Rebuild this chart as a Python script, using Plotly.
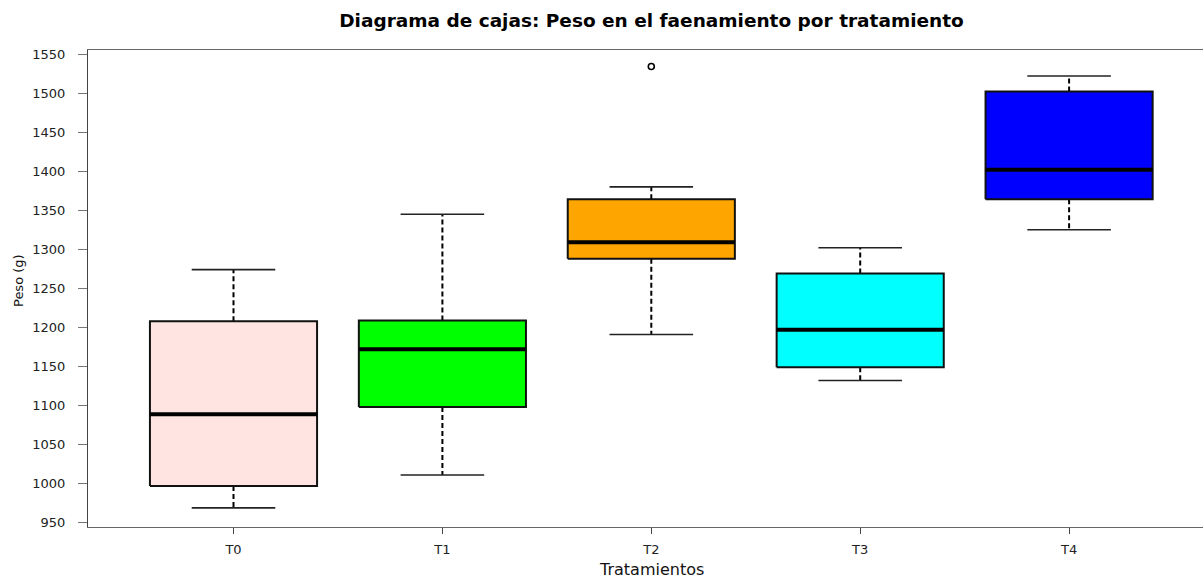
import plotly.graph_objects as go

# Five-number summaries of slaughter weight (g) per treatment
groups = ["T0", "T1", "T2", "T3", "T4"]
whisker_low = [969, 1011, 1191, 1132, 1325]
q1 = [997, 1098, 1288, 1149, 1364]
median = [1089, 1172, 1309, 1197, 1402]
q3 = [1208, 1209, 1364, 1269, 1502]
whisker_high = [1274, 1345, 1380, 1302, 1522]
outlier_group = ["T2"]
outlier_value = [1534]

fill_colors = ["#FFE4E1", "#00FF00", "#FFA500", "#00FFFF", "#0000FF"]

y_ticks = list(range(950, 1551, 50))

BOX_HALF = 0.4
CAP_HALF = 0.2
FONT = "DejaVu Sans"

# plot-area geometry in pixels (used to place axis titles)
W, H = 1203, 580
ML, MR, MT, MB = 88, 0, 50, 53
PW, PH = W - ML - MR, H - MT - MB


def px_to_paper(px, py):
    return (px - ML) / PW, (H - MB - py) / PH


fig = go.Figure()

for i, g in enumerate(groups):
    x = i + 1
    # dashed whiskers
    for a, b in ((q3[i], whisker_high[i]), (q1[i], whisker_low[i])):
        fig.add_trace(go.Scatter(
            x=[x, x], y=[a, b], mode="lines",
            line=dict(color="black", width=2, dash="5px,3px"),
            hoverinfo="skip", showlegend=False))
    # whisker caps
    for v in (whisker_high[i], whisker_low[i]):
        fig.add_trace(go.Scatter(
            x=[x - CAP_HALF, x + CAP_HALF], y=[v, v], mode="lines",
            line=dict(color="#222222", width=1.6),
            hoverinfo="skip", showlegend=False))
    # box body
    fig.add_trace(go.Scatter(
        x=[x - BOX_HALF, x + BOX_HALF, x + BOX_HALF, x - BOX_HALF, x - BOX_HALF],
        y=[q1[i], q1[i], q3[i], q3[i], q1[i]],
        mode="lines", fill="toself", fillcolor=fill_colors[i],
        line=dict(color="#111111", width=2),
        name=g, showlegend=False))
    # median
    fig.add_trace(go.Scatter(
        x=[x - BOX_HALF, x + BOX_HALF], y=[median[i], median[i]], mode="lines",
        line=dict(color="black", width=4),
        hoverinfo="skip", showlegend=False))

# outliers
fig.add_trace(go.Scatter(
    x=[groups.index(g) + 1 for g in outlier_group], y=outlier_value,
    mode="markers",
    marker=dict(symbol="circle-open", size=6, color="black", line=dict(width=1.6)),
    showlegend=False))

xt_x, xt_y = px_to_paper(651.5, 569)
yt_x, yt_y = px_to_paper(18, 281)

fig.update_layout(
    width=W, height=H,
    margin=dict(l=ML, r=MR, t=MT, b=MB),
    paper_bgcolor="white", plot_bgcolor="white",
    font=dict(family=FONT, color="black"),
    title=dict(
        text="<b>Diagrama de cajas: Peso en el faenamiento por tratamiento</b>",
        x=651.5 / W, xref="container", xanchor="center",
        y=1 - 21 / H, yref="container", yanchor="middle",
        font=dict(family=FONT, size=18.5, color="black")),
    xaxis=dict(
        range=[0.3035, 5.641],
        tickmode="array", tickvals=[1, 2, 3, 4, 5], ticktext=groups,
        ticks="outside", ticklen=6, tickcolor="#444444", tickwidth=1,
        showline=True, linecolor="#666666", linewidth=1.3, mirror=True,
        showgrid=False, zeroline=False,
        tickfont=dict(family=FONT, size=13, color="#222222"),
        ticklabelstandoff=4,
    ),
    yaxis=dict(
        range=[944.5, 1555.2],
        tickmode="array", tickvals=y_ticks,
        ticks="outside", ticklen=9, tickcolor="#777777", tickwidth=1.3,
        showline=True, linecolor="#444444", linewidth=1.3,
        showgrid=False, zeroline=False,
        tickfont=dict(family=FONT, size=13, color="#222222"),
        ticklabelstandoff=10,
    ),
    annotations=[
        dict(text="Tratamientos", x=xt_x, y=xt_y,
             xref="paper", yref="paper", xanchor="center", yanchor="middle",
             showarrow=False,
             font=dict(family=FONT, size=16, color="#111111")),
        dict(text="Peso (g)", textangle=-90, x=yt_x, y=yt_y,
             xref="paper", yref="paper", xanchor="center", yanchor="middle",
             showarrow=False,
             font=dict(family=FONT, size=13, color="#111111")),
    ],
)
fig.write_html("out.html")
